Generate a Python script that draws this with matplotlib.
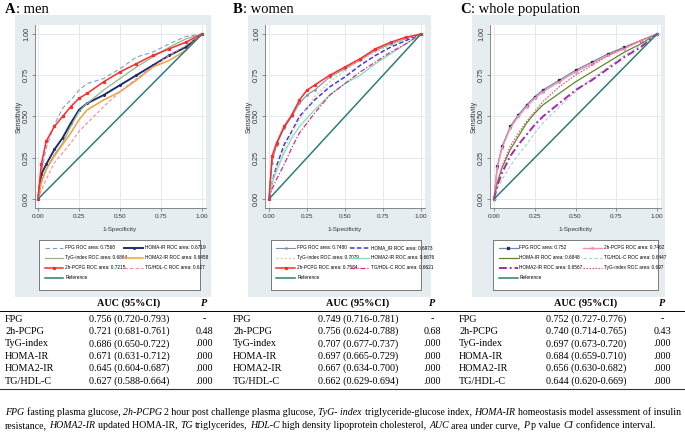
import matplotlib
matplotlib.use("Agg")
import matplotlib.pyplot as plt
from matplotlib import font_manager
from matplotlib.lines import Line2D
from matplotlib.patches import Rectangle

# ROC curves, at these 1-specificity points
fpr = [0.0, 0.02, 0.05, 0.1, 0.15, 0.2, 0.25, 0.3, 0.4, 0.5, 0.6, 0.7, 0.8, 0.9, 1.0]
reference = [0.0, 1.0]

# A: men
men_fpg = [0, 0.16, 0.31, 0.45, 0.55, 0.60, 0.66, 0.70, 0.73, 0.79, 0.86, 0.89, 0.94, 0.985, 1]
men_homa = [0, 0.15, 0.21, 0.30, 0.37, 0.46, 0.54, 0.58, 0.63, 0.69, 0.75, 0.81, 0.87, 0.92, 1]
men_tyg = [0, 0.10, 0.18, 0.27, 0.34, 0.44, 0.53, 0.58, 0.66, 0.73, 0.80, 0.86, 0.92, 0.97, 1]
men_homa2 = [0, 0.10, 0.18, 0.26, 0.33, 0.40, 0.48, 0.54, 0.60, 0.65, 0.72, 0.80, 0.84, 0.90, 1]
men_2h = [0, 0.21, 0.35, 0.44, 0.50, 0.56, 0.61, 0.64, 0.71, 0.77, 0.82, 0.87, 0.91, 0.95, 1]
men_tghdl = [0, 0.05, 0.12, 0.22, 0.28, 0.34, 0.41, 0.46, 0.56, 0.65, 0.73, 0.80, 0.87, 0.93, 1]

# B: women
women_fpg = [0, 0.22, 0.33, 0.43, 0.50, 0.58, 0.63, 0.66, 0.74, 0.79, 0.84, 0.90, 0.94, 0.97, 1]
women_homa = [0, 0.10, 0.20, 0.33, 0.41, 0.50, 0.55, 0.60, 0.68, 0.74, 0.81, 0.87, 0.92, 0.96, 1]
women_tyg = [0, 0.09, 0.18, 0.30, 0.40, 0.48, 0.55, 0.62, 0.71, 0.78, 0.84, 0.89, 0.93, 0.97, 1]
women_homa2 = [0, 0.10, 0.17, 0.28, 0.37, 0.44, 0.49, 0.54, 0.63, 0.70, 0.75, 0.82, 0.88, 0.94, 1]
women_2h = [0, 0.26, 0.34, 0.44, 0.51, 0.60, 0.66, 0.69, 0.75, 0.80, 0.85, 0.91, 0.95, 0.98, 1]
women_tghdl = [0, 0.06, 0.12, 0.21, 0.31, 0.40, 0.46, 0.52, 0.63, 0.70, 0.77, 0.83, 0.89, 0.94, 1]

# C: whole population
whole_fpg = [0, 0.20, 0.32, 0.44, 0.51, 0.57, 0.62, 0.66, 0.72, 0.78, 0.83, 0.88, 0.92, 0.96, 1]
whole_2h = [0, 0.19, 0.31, 0.43, 0.50, 0.56, 0.61, 0.65, 0.71, 0.77, 0.82, 0.87, 0.91, 0.96, 1]
whole_homa = [0, 0.10, 0.19, 0.30, 0.38, 0.46, 0.52, 0.57, 0.64, 0.71, 0.77, 0.83, 0.89, 0.94, 1]
whole_tghdl = [0, 0.06, 0.12, 0.20, 0.27, 0.33, 0.40, 0.46, 0.56, 0.65, 0.73, 0.80, 0.87, 0.93, 1]
whole_homa2 = [0, 0.08, 0.16, 0.26, 0.33, 0.39, 0.45, 0.50, 0.58, 0.66, 0.72, 0.79, 0.86, 0.92, 1]
whole_tyg = [0, 0.10, 0.20, 0.32, 0.40, 0.47, 0.53, 0.59, 0.68, 0.75, 0.81, 0.87, 0.92, 0.96, 1]

# tables under the plots
table_rows = ["FPG", "2h-PCPG", "TyG-index", "HOMA-IR", "HOMA2-IR", "TG/HDL-C"]
men_auc = ["0.756 (0.720-0.793)", "0.721 (0.681-0.761)", "0.686 (0.650-0.722)",
           "0.671 (0.631-0.712)", "0.645 (0.604-0.687)", "0.627 (0.588-0.664)"]
men_p = ["-", "0.48", ".000", ".000", ".000", ".000"]
women_auc = ["0.749 (0.716-0.781)", "0.756 (0.624-0.788)", "0.707 (0.677-0.737)",
             "0.697 (0.665-0.729)", "0.667 (0.634-0.700)", "0.662 (0.629-0.694)"]
women_p = ["-", "0.68", ".000", ".000", ".000", ".000"]
whole_auc = ["0.752 (0.727-0.776)", "0.740 (0.714-0.765)", "0.697 (0.673-0.720)",
             "0.684 (0.659-0.710)", "0.656 (0.630-0.682)", "0.644 (0.620-0.669)"]
whole_p = ["-", "0.43", ".000", ".000", ".000", ".000"]

footnote_1 = [("FPG", True), (" fasting plasma glucose, ", False), ("2h-PCPG", True),
              (" 2 hour post challenge plasma glucose, ", False), ("TyG- index", True),
              (" triglyceride-glucose index, ", False), ("HOMA-IR", True),
              (" homeostasis model assessment of insulin", False)]
footnote_2 = [("resistance, ", False), ("HOMA2-IR", True), (" updated HOMA-IR, ", False),
              ("TG", True), (" triglycerides, ", False), ("HDL-C", True),
              (" high density lipoprotein cholesterol, ", False), ("AUC", True),
              (" area under curve, ", False), ("P", True), (" p value ", False),
              ("CI", True), (" confidence interval.", False)]

W, H = 685, 432
SERIF = "Liberation Serif"
names = {f.name for f in font_manager.fontManager.ttflist}
NARROW = "Liberation Sans Narrow" if "Liberation Sans Narrow" in names else "Liberation Sans"
BG = "#e5edf1"
GRID = "#e3e9ed"
REF = "#2e7d78"
TAB_FS = 7.3

fig = plt.figure(figsize=(W / 100, H / 100), dpi=100)
renderer = fig.canvas.get_renderer()


def rect(l, r, t, b):
    return [l / W, 1 - b / H, (r - l) / W, (b - t) / H]


def hline(y, x0=0, x1=W, lw=0.7, color="black"):
    fig.add_artist(Line2D([x0 / W, x1 / W], [1 - y / H, 1 - y / H],
                          transform=fig.transFigure, color=color, lw=lw))


def text_w(s, **kw):
    t = fig.text(0, 0, s, **kw)
    w = t.get_window_extent(renderer).width
    t.remove()
    return w


def draw_runs(x, y, runs, size):
    # runs of (text, italic) laid one after the other on a baseline
    for txt, italic in runs:
        kw = dict(fontsize=size, family=SERIF, style="italic" if italic else "normal")
        sp = text_w("x x", **kw) - text_w("xx", **kw)
        core = txt.strip(" ")
        x += (len(txt) - len(txt.lstrip(" "))) * sp
        if core:
            t = fig.text(x / W, 1 - y / H, core, va="baseline", **kw)
            x += t.get_window_extent(renderer).width
        x += (len(txt) - len(txt.rstrip(" "))) * sp
    return x


def draw_panel(p):
    l, r, t, b = p["gray"]
    fig.add_artist(Rectangle((l / W, 1 - b / H), (r - l) / W, (b - t) / H,
                             transform=fig.transFigure, facecolor=BG,
                             edgecolor="none", zorder=0))
    # title: bold letter + regular text
    x = p["title_x"]
    t1 = fig.text(x / W, 1 - 13 / H, p["letter"], fontsize=10.5, family=SERIF,
                  weight="bold", va="baseline")
    x += t1.get_window_extent(renderer).width
    fig.text(x / W, 1 - 13 / H, p["name"], fontsize=10.5, family=SERIF, va="baseline")

    wl, wr, wt, wb = p["white"]
    x0, x1 = p["x0"], p["x1"]
    y1, y0 = 34, 199
    ax = fig.add_axes(rect(wl, wr, wt, wb))
    ax.set_facecolor("white")
    ax.set_xlim((wl - x0) / (x1 - x0), (wr - x0) / (x1 - x0))
    ax.set_ylim((y0 - wb) / (y0 - y1), (y0 - wt) / (y0 - y1))
    ticks = [0, 0.25, 0.5, 0.75, 1.0]
    ax.set_xticks(ticks)
    ax.set_yticks(ticks)
    ax.set_xticklabels([f"{v:.2f}" for v in ticks], family=NARROW, fontsize=4.6)
    ax.set_yticklabels([f"{v:.2f}" for v in ticks], family="Liberation Sans",
                       fontsize=5.2, rotation=90, va="center")
    ax.grid(True, color=GRID, lw=0.7)
    ax.set_axisbelow(True)
    for s in ["top", "right"]:
        ax.spines[s].set_visible(False)
    for s in ["left", "bottom"]:
        ax.spines[s].set_color("#777777")
        ax.spines[s].set_linewidth(0.6)
    ax.tick_params(direction="out", length=2.5, width=0.5, color="#666666",
                   labelcolor="#333333")
    ax.tick_params(axis="x", pad=2)
    ax.tick_params(axis="y", pad=1)

    lines = {}
    for key, tpr, label, style in p["curves"]:
        (ln,) = ax.plot(fpr, tpr, label=label, **style)
        lines[key] = ln
    (ln,) = ax.plot(reference, reference, color=REF, lw=1.1, label="Reference")
    lines["ref"] = ln

    fig.text((wl - 16) / W, 1 - 117 / H, "Sensitivity", rotation=90, ha="center",
             va="center", family=NARROW, fontsize=5, color="#333333")
    fig.text(((x0 + x1) / 2) / W, 1 - 229 / H, "1-Specificity", ha="center",
             va="center", family=NARROW, fontsize=4.6, color="#333333")

    ll, lr, lt, lb = p["legend"]
    lax = fig.add_axes(rect(ll, lr, lt, lb))
    lax.set_xticks([])
    lax.set_yticks([])
    lax.set_facecolor("white")
    for s in lax.spines.values():
        s.set_color("#7a7a7a")
        s.set_linewidth(0.7)
    kw = dict(loc="upper left", frameon=False, handlelength=4.0,
              handletextpad=0.4, labelspacing=1.05, borderpad=0,
              prop={"family": NARROW, "size": 3.4})
    c1 = [lines[k] for k in p["col1"]]
    c2 = [lines[k] for k in p["col2"]]
    leg1 = lax.legend(c1, [h.get_label() for h in c1], bbox_to_anchor=(0.02, 0.94), **kw)
    lax.add_artist(leg1)
    lax.legend(c2, [h.get_label() for h in c2], bbox_to_anchor=(p["col2_x"], 0.94), **kw)


def draw_table(p):
    lx, cx, px = p["tab_x"]
    fig.text(cx / W, 1 - 303 / H, "AUC (95%CI)", ha="center", va="center",
             family=SERIF, weight="bold", fontsize=TAB_FS)
    fig.text(px / W, 1 - 303 / H, "P", ha="center", va="center",
             family=SERIF, weight="bold", style="italic", fontsize=TAB_FS)
    for i, name in enumerate(table_rows):
        y = 1 - (319 + 12.4 * i) / H
        fig.text(lx / W, y, name, va="center", family=SERIF, fontsize=TAB_FS)
        fig.text(cx / W, y, p["auc"][i], ha="center", va="center", family=SERIF,
                 fontsize=TAB_FS)
        fig.text(px / W, y, p["p"][i], ha="center", va="center", family=SERIF,
                 fontsize=TAB_FS)


panels = [
    dict(letter="A", name=": men", title_x=5,
         gray=(15, 211, 15, 297), white=(35, 206, 25, 208), x0=38, x1=202,
         legend=(39, 200, 240, 290), col2_x=0.515, tab_x=(5, 129, 204),
         auc=men_auc, p=men_p,
         curves=[("fpg", men_fpg, "FPG ROC area: 0.7568",
                  dict(color="#7f9ccf", lw=0.8, ls=(0, (4, 2.5)))),
                 ("homa", men_homa, "HOMA-IR ROC area: 0.6719",
                  dict(color="#1b2f6e", lw=1.4, marker="o", ms=1.2)),
                 ("tyg", men_tyg, "TyG-index ROC area: 0.6864",
                  dict(color="#94b48f", lw=0.9)),
                 ("homa2", men_homa2, "HOMA2-IR ROC area: 0.6458",
                  dict(color="#f2a03a", lw=1.1)),
                 ("2h", men_2h, "2h-PCPG ROC area: 0.7215",
                  dict(color="#ff2a2a", lw=1.1, marker="s", ms=1.3)),
                 ("tghdl", men_tghdl, "TG/HDL-C ROC area: 0.627",
                  dict(color="#f08a9c", lw=0.8, ls=(0, (3, 2))))],
         col1=["fpg", "tyg", "2h", "ref"], col2=["homa", "homa2", "tghdl"]),
    dict(letter="B", name=": women", title_x=233,
         gray=(248, 431, 15, 297), white=(265, 425, 25, 208), x0=269, x1=421,
         legend=(271, 421, 240, 290), col2_x=0.51, tab_x=(233, 358, 432),
         auc=women_auc, p=women_p,
         curves=[("fpg", women_fpg, "FPG ROC area: 0.7480",
                  dict(color="#7d91aa", lw=0.8, marker="o", ms=0.9)),
                 ("homa", women_homa, "HOMA_IR ROC area: 0.6973",
                  dict(color="#3a3ae8", lw=1.1, ls=(0, (3, 1.5)))),
                 ("tyg", women_tyg, "TyG-index ROC area: 0.7079",
                  dict(color="#e9c9a0", lw=1.0, ls=(0, (1.5, 1.5)))),
                 ("homa2", women_homa2, "HOMA2-IR ROC area: 0.6676",
                  dict(color="#86e3b6", lw=1.0)),
                 ("2h", women_2h, "2h-PCPG ROC area: 0.7584",
                  dict(color="#ff2a2a", lw=1.1, marker="s", ms=1.3)),
                 ("tghdl", women_tghdl, "TG/HDL-C ROC area: 0.6621",
                  dict(color="#e0288e", lw=0.9, ls=(0, (4, 1.5, 1, 1.5))))],
         col1=["fpg", "tyg", "2h", "ref"], col2=["homa", "homa2", "tghdl"]),
    dict(letter="C", name=": whole population", title_x=460,
         gray=(472, 665, 15, 297), white=(490, 661, 25, 208), x0=494, x1=657,
         legend=(493, 658, 240, 290), col2_x=0.53, tab_x=(459, 586, 662),
         auc=whole_auc, p=whole_p,
         curves=[("fpg", whole_fpg, "FPG ROC area: 0.752",
                  dict(color="#6d8db3", lw=0.9, marker="s", ms=1.4,
                       markerfacecolor="#1f3163", markeredgecolor="#1f3163")),
                 ("2h", whole_2h, "2h-PCPG ROC area: 0.7402",
                  dict(color="#f48fb4", lw=1.0, marker="s", ms=1.0)),
                 ("homa", whole_homa, "HOMA-IR ROC area: 0.6848",
                  dict(color="#5b8a2c", lw=0.9)),
                 ("tghdl", whole_tghdl, "TG/HDL-C ROC area: 0.6447",
                  dict(color="#a6cbea", lw=0.8, ls=(0, (3, 2)))),
                 ("homa2", whole_homa2, "HOMA2-IR ROC area: 0.6567",
                  dict(color="#a52aa8", lw=1.4, ls=(0, (4, 1.5, 1, 1.5)))),
                 ("tyg", whole_tyg, "TyG-index ROC area: 0.697",
                  dict(color="#e2566f", lw=0.9, ls=(0, (1.2, 1.2))))],
         col1=["fpg", "homa", "homa2", "ref"], col2=["2h", "tghdl", "tyg"]),
]

for p in panels:
    draw_panel(p)
    draw_table(p)

hline(311, lw=0.7)
hline(389, lw=0.8, color="#333333")

# footnote, sized so the first line fills the width
size = 7.0
probe = draw_runs(0, -50, footnote_1, size)
for t in list(fig.texts):
    if t.get_position()[1] > 1:
        t.remove()
size = size * 675 / probe
draw_runs(5, 415, footnote_1, size)
draw_runs(5, 428, footnote_2, size)

fig.savefig("out.png", dpi=100)
